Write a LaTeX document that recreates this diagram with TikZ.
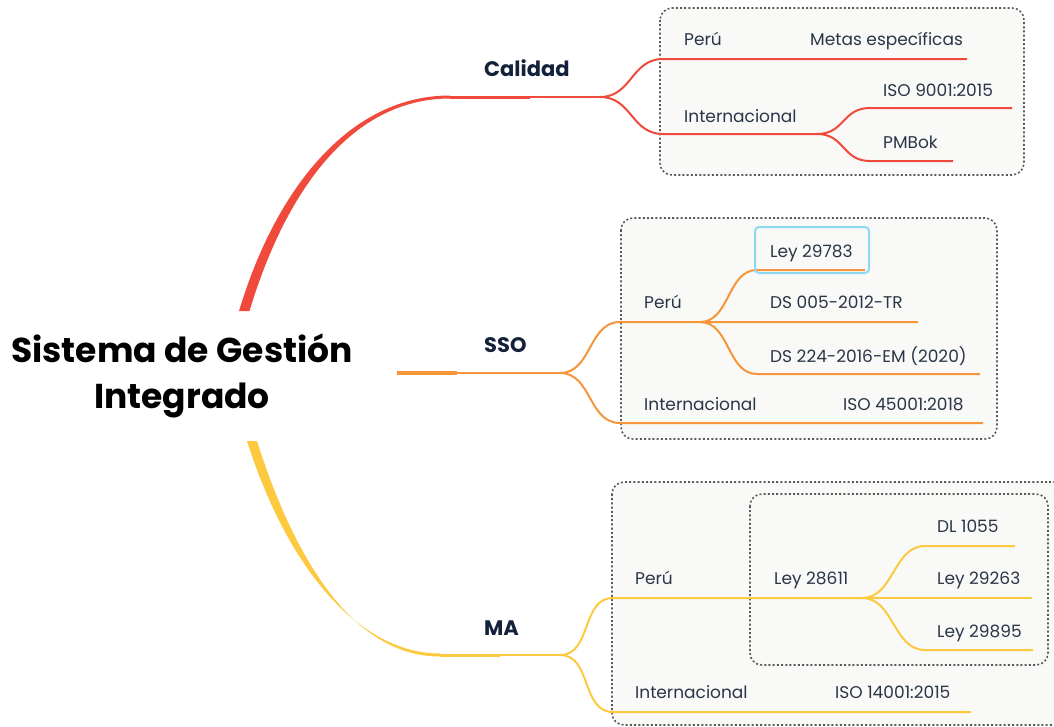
\documentclass[tikz,border=0pt]{standalone}
\usepackage{fontspec}
\setmainfont{Poppins}
\definecolor{cred}{HTML}{F04A3C}
\definecolor{corange}{HTML}{F7953A}
\definecolor{cyellow}{HTML}{FCC93F}
\definecolor{ctext}{HTML}{2A3648}
\definecolor{cdark}{HTML}{14213A}
\definecolor{boxfill}{HTML}{F9F9F7}
\definecolor{boxline}{HTML}{5A5A5A}
\definecolor{hlblue}{HTML}{8FD8F6}
\begin{document}
\begin{tikzpicture}[x=1pt,y=-1pt,
 grp/.style={draw=boxline, line width=1.6pt, dash pattern=on 2pt off 2.2pt, rounded corners=12pt, fill=boxfill},
 lbl/.style={anchor=base west, inner sep=0pt, font=\fontsize{17}{20}\selectfont, text=ctext},
 topic/.style={anchor=base west, inner sep=0pt, font=\fontsize{21}{24}\selectfont\bfseries, text=cdark},
 br/.style={line width=2pt},
]
\useasboundingbox (0,0) rectangle (1054,726);
% group boxes
\draw[grp] (660,8) rectangle (1024,175);
\draw[grp] (621,218) rectangle (997,439);
\draw[grp] (612,482) rectangle (1075,725);
\draw[grp] (750,494) rectangle (1048,665);
% root
\node[align=center, inner sep=0pt, font=\fontsize{34.5}{46}\selectfont\bfseries, text=black] (root) at (182,376) {Sistema de Gestión\\Integrado};
% coordinates
\coordinate (rB) at (450,97);
\coordinate (rC) at (530,97);
\coordinate (cal) at (600,97);
\coordinate (calP) at (663,59);
\coordinate (calPe) at (967,59);
\coordinate (calI) at (663,134);
\coordinate (calIs) at (817,134);
\coordinate (iso9s) at (870,108);
\coordinate (iso9e) at (1012,108);
\coordinate (pmbs) at (870,161);
\coordinate (pmbe) at (953,161);
\coordinate (oA) at (397,373);
\coordinate (oB) at (457,373);
\coordinate (sso) at (560,373);
\coordinate (ssoP) at (620,322);
\coordinate (ssoPs) at (700,322);
\coordinate (ssoI) at (620,423);
\coordinate (ssoIe) at (983,423);
\coordinate (leys) at (757,270);
\coordinate (leye) at (865,270);
\coordinate (ds5e) at (918,322);
\coordinate (ds2s) at (757,374);
\coordinate (ds2e) at (980,374);
\coordinate (yB) at (440,655);
\coordinate (yC) at (500,655);
\coordinate (ma) at (560,655);
\coordinate (maP) at (613,598);
\coordinate (maL) at (862,598);
\coordinate (dls) at (925,546);
\coordinate (dle) at (1015,546);
\coordinate (l263e) at (1032,598);
\coordinate (l895s) at (925,650);
\coordinate (l895e) at (1033,650);
\coordinate (maI) at (613,712);
\coordinate (maIe) at (971,712);
% Calidad branch (red)
\fill[cred] (239,311) .. controls (276,188) and (350,95.5) .. (450,95.5) -- (450,98.5) .. controls (352,98.5) and (286,190) .. (249.5,311) -- cycle;
\draw[cred, line width=3pt] (rB) -- (rC);
\draw[cred, br] (rC) -- (cal);
\draw[cred, br] (cal) .. controls +(32,0) and +(-32,0) .. (calP) -- (calPe);
\draw[cred, br] (cal) .. controls +(32,0) and +(-32,0) .. (calI) -- (calIs);
\draw[cred, br] (calIs) .. controls +(28,0) and +(-28,0) .. (iso9s) -- (iso9e);
\draw[cred, br] (calIs) .. controls +(28,0) and +(-28,0) .. (pmbs) -- (pmbe);
% SSO branch (orange)
\draw[corange, line width=4pt] (oA) -- (oB);
\draw[corange, br] (oB) -- (sso);
\draw[corange, br] (sso) .. controls +(32,0) and +(-32,0) .. (ssoP) -- (ssoPs) -- (ds5e);
\draw[corange, br] (sso) .. controls +(32,0) and +(-32,0) .. (ssoI) -- (ssoIe);
\draw[corange, br] (ssoPs) .. controls +(30,0) and +(-30,0) .. (leys) -- (leye);
\draw[corange, br] (ssoPs) .. controls +(30,0) and +(-30,0) .. (ds2s) -- (ds2e);
% MA branch (yellow)
\fill[cyellow] (247,441) .. controls (288,570) and (360,653.5) .. (440,653.5) -- (440,656.5) .. controls (358,656.5) and (298,570) .. (257,441) -- cycle;
\draw[cyellow, line width=3pt] (yB) -- (yC);
\draw[cyellow, br] (yC) -- (ma);
\draw[cyellow, br] (ma) .. controls +(32,0) and +(-32,0) .. (maP) -- (maL);
\draw[cyellow, br] (ma) .. controls +(32,0) and +(-32,0) .. (maI) -- (maIe);
\draw[cyellow, br] (maL) .. controls +(32,0) and +(-32,0) .. (dls) -- (dle);
\draw[cyellow, br] (maL) -- (l263e);
\draw[cyellow, br] (maL) .. controls +(32,0) and +(-32,0) .. (l895s) -- (l895e);
% topic labels
\node[topic] (tcal) at (484,76) {Calidad};
\node[topic] (tsso) at (484,352) {SSO};
\node[topic] (tma) at (484,635) {MA};
% Calidad texts
\node[lbl] (c1) at (684,45) {Perú};
\node[lbl] (c2) at (810,45) {Metas específicas};
\node[lbl] (c3) at (684,122) {Internacional};
\node[lbl] (c4) at (883,96) {ISO 9001:2015};
\node[lbl] (c5) at (883,148) {PMBok};
% SSO texts
\node[lbl] (s1) at (644,308) {Perú};
\node[lbl] (s2) at (770,257) {Ley 29783};
\node[lbl] (s3) at (770,308) {DS 005-2012-TR};
\node[lbl] (s4) at (770,362) {DS 224-2016-EM (2020)};
\node[lbl] (s5) at (644,410) {Internacional};
\node[lbl] (s6) at (843,410) {ISO 45001:2018};
\draw[hlblue, line width=2pt, rounded corners=4pt] (755,227) rectangle (869,273);
% MA texts
\node[lbl] (m1) at (635,584) {Perú};
\node[lbl] (m2) at (774,584) {Ley 28611};
\node[lbl] (m3) at (937,532) {DL 1055};
\node[lbl] (m4) at (937,584) {Ley 29263};
\node[lbl] (m5) at (937,637) {Ley 29895};
\node[lbl] (m6) at (635,698) {Internacional};
\node[lbl] (m7) at (835,698) {ISO 14001:2015};
\end{tikzpicture}
\end{document}
